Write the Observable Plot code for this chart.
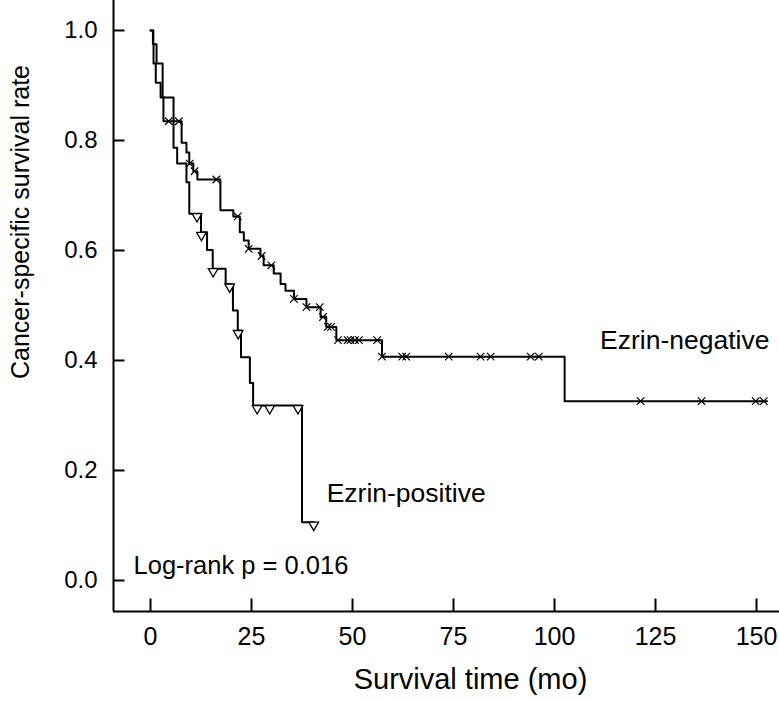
<!DOCTYPE html>
<html><head><meta charset="utf-8">
<script src="https://cdn.jsdelivr.net/npm/d3@7"></script>
<script src="https://cdn.jsdelivr.net/npm/@observablehq/plot@0.6"></script>
<style>body{margin:0;background:#fff} svg{display:block}</style>
</head><body><div id="chart"></div>
<script>
const xTicks = [0, 25, 50, 75, 100, 125, 150];
const yTicks = [0, 0.2, 0.4, 0.6, 0.8, 1.0];

// Ezrin-negative: step times (mo) and survival after each step
const negTimes = [0, 0.7, 1.5, 3.0, 3.2, 7.7, 8.9, 9.6, 10.6, 11.6, 17.3, 20.5, 22.1, 23.1, 24.3, 27.2, 28.0, 30.5, 32.2, 33.4, 35.5, 38.6, 42.1, 43.5, 46.0, 57.3, 102.5, 152.6];
const negSurv  = [1.0, 0.975, 0.94, 0.88, 0.835, 0.796, 0.778, 0.758, 0.744, 0.729, 0.673, 0.662, 0.633, 0.618, 0.603, 0.59, 0.573, 0.558, 0.539, 0.527, 0.512, 0.497, 0.479, 0.461, 0.437, 0.407, 0.326, 0.326];
const negCensor = [4.5, 7.0, 9.7, 10.9, 16.3, 21.6, 24.3, 27.5, 29.9, 35.5, 38.6, 41.9, 42.7, 43.9, 44.7, 46.4, 48.8, 49.5, 50.6, 51.6, 56.1, 57.3, 62.3, 63.3, 73.8, 81.7, 84.2, 94.1, 96.1, 121.3, 136.4, 149.8, 151.8];

// Ezrin-positive
const posTimes = [0, 0.6, 0.75, 1.3, 2.5, 5.7, 6.6, 8.9, 9.6, 12.5, 14.0, 15.4, 18.6, 20.4, 21.6, 22.4, 24.6, 25.4, 37.5, 40.4];
const posSurv  = [1.0, 0.975, 0.94, 0.905, 0.878, 0.787, 0.758, 0.724, 0.667, 0.633, 0.601, 0.567, 0.539, 0.491, 0.4545, 0.406, 0.359, 0.318, 0.106, 0.106];
const posCensor = [11.5, 12.6, 15.5, 19.6, 21.7, 26.4, 29.5, 36.5, 40.4];

const labels = ["Ezrin-negative", "Ezrin-positive", "Log-rank p = 0.016"];

function survAt(times, surv, t) {
  let s = surv[0];
  for (let i = 0; i < times.length; i++) if (times[i] <= t) s = surv[i];
  return s;
}
const negLine = negTimes.map((t, i) => ({t, s: negSurv[i]}));
const posLine = posTimes.map((t, i) => ({t, s: posSurv[i]}));
const negMarks = negCensor.map(t => ({t, s: survAt(negTimes, negSurv, t)}));
const posMarks = posCensor.map(t => ({t, s: survAt(posTimes, posSurv, t)}));

const W = 779, H = 701, mL = 113, mB = 90;
const xDom = [-9.16, 155.69];
const yDom = [-0.0564, 1.0545];
// tick lengths converted from pixels to data units
const xTickLen = 13 * (yDom[1] - yDom[0]) / (H - mB);
const yTickLen = 11 * (xDom[1] - xDom[0]) / (W - mL);
const font = "'Liberation Sans', Arial, Helvetica, sans-serif";

const xTickRows = xTicks.map(v => ({v, a: yDom[0], b: yDom[0] + xTickLen}));
const yTickRows = yTicks.map(v => ({v, a: xDom[0], b: xDom[0] + yTickLen}));

const chart = Plot.plot({
  width: W, height: H,
  marginLeft: mL, marginRight: 0, marginTop: 0, marginBottom: mB,
  style: {fontFamily: font, background: "white", color: "black"},
  x: {domain: xDom},
  y: {domain: yDom},
  marks: [
    Plot.ruleX([xDom[0]], {stroke: "black", strokeWidth: 2}),
    Plot.ruleY([yDom[0]], {stroke: "black", strokeWidth: 2}),
    Plot.link(xTickRows, {x1: "v", x2: "v", y1: "a", y2: "b", stroke: "black", strokeWidth: 2}),
    Plot.link(yTickRows, {y1: "v", y2: "v", x1: "a", x2: "b", stroke: "black", strokeWidth: 2}),
    Plot.axisX(xTicks, {tickSize: 0, tickPadding: 16, fontSize: 25, label: null, tickFormat: d3.format("d")}),
    Plot.axisY(yTicks, {tickSize: 0, tickPadding: 16, fontSize: 24, label: null, tickFormat: d3.format(".1f")}),
    Plot.line(negLine, {x: "t", y: "s", curve: "step-after", stroke: "black", strokeWidth: 2}),
    Plot.line(posLine, {x: "t", y: "s", curve: "step-after", stroke: "black", strokeWidth: 2}),
    Plot.dot(negMarks, {x: "t", y: "s", symbol: "times", r: 3.5, stroke: "black", strokeWidth: 1.2}),
    Plot.dot(posMarks, {x: "t", y: "s", symbol: "triangle", rotate: 180, r: 3.6, dy: 2.8, fill: "white", stroke: "black", strokeWidth: 1.3}),
    Plot.text([labels[0]], {x: 153.2, y: 0.436, text: d => d, textAnchor: "end", fontSize: 26.5, lineAnchor: "middle", fill: "black"}),
    Plot.text([labels[1]], {x: 43.6, y: 0.158, text: d => d, textAnchor: "start", fontSize: 26.5, lineAnchor: "middle", fill: "black"}),
    Plot.text([labels[2]], {x: -4.2, y: 0.027, text: d => d, textAnchor: "start", fontSize: 25.5, lineAnchor: "middle", fill: "black"}),
    Plot.text(["Cancer-specific survival rate"], {frameAnchor: "left", rotate: -90, dx: -93, dy: -84, fontSize: 25, textAnchor: "middle", lineAnchor: "middle", fill: "black"}),
    Plot.text(["Survival time (mo)"], {frameAnchor: "bottom", dx: 24, dy: 68, fontSize: 29, textAnchor: "middle", lineAnchor: "middle", fill: "black"})
  ]
});
document.getElementById("chart").appendChild(chart);
</script>
</body></html>
